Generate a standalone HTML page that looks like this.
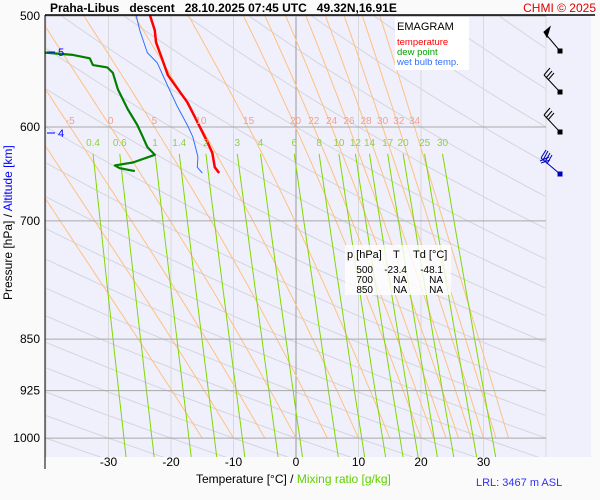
<!DOCTYPE html>
<html><head><meta charset="utf-8"><style>
body{margin:0;background:#fafafa;}
svg{display:block;font-family:"Liberation Sans",sans-serif;}
</style></head><body>
<svg id="chart" width="600" height="500">
<rect x="45" y="15" width="546" height="442" fill="#f0f0fc"/>
<g id="bg"></g>
<g id="series"></g>
<line x1="45" y1="15" x2="595" y2="15" stroke="#000" stroke-width="1.5"/>
<line x1="45" y1="15" x2="45" y2="469" stroke="#000" stroke-width="1"/>
<text x="50" y="12" font-size="12" font-weight="bold" xml:space="preserve">Praha-Libus   descent   28.10.2025 07:45 UTC   49.32N,16.91E</text>
<text x="596" y="12" font-size="12" fill="#e00000" text-anchor="end">CHMI © 2025</text>
<g>
<rect x="395" y="17" width="74" height="53" fill="#fff"/>
<text x="397" y="30" font-size="11">EMAGRAM</text>
<text x="397" y="45" font-size="9.5" fill="#ff0000">temperature</text>
<text x="397" y="55" font-size="9.5" fill="#00a000">dew point</text>
<text x="397" y="65" font-size="9.5" fill="#3070ff">wet bulb temp.</text>
</g>
<g font-size="10">
<rect x="345" y="245" width="106" height="50" fill="#fff" opacity="0.8"/>
<text x="347" y="258" font-size="11">p [hPa]</text>
<text x="393" y="258" font-size="11">T</text>
<text x="413" y="258" font-size="11">Td [°C]</text>
<text x="373" y="273" text-anchor="end">500</text>
<text x="407" y="273" text-anchor="end">-23.4</text>
<text x="443" y="273" text-anchor="end">-48.1</text>
<text x="373" y="283" text-anchor="end">700</text>
<text x="407" y="283" text-anchor="end">NA</text>
<text x="443" y="283" text-anchor="end">NA</text>
<text x="373" y="293" text-anchor="end">850</text>
<text x="407" y="293" text-anchor="end">NA</text>
<text x="443" y="293" text-anchor="end">NA</text>
</g>
<g stroke="#000" stroke-width="1">
<g><line x1="544" y1="32" x2="560" y2="51"/><polygon points="544,32 550,27 547,37" fill="#000"/><rect x="558" y="49" width="4" height="4" fill="#000"/></g>
<g><line x1="544" y1="75" x2="560" y2="92"/><line x1="544" y1="75" x2="550" y2="68"/><line x1="546" y1="78" x2="552" y2="71"/><line x1="548" y1="80" x2="554" y2="73"/><rect x="558" y="90" width="4" height="4" fill="#000"/></g>
<g><line x1="544" y1="115" x2="560" y2="132"/><line x1="544" y1="115" x2="550" y2="108"/><line x1="546" y1="118" x2="552" y2="111"/><line x1="548" y1="120" x2="554" y2="113"/><rect x="558" y="130" width="4" height="4" fill="#000"/></g>
<g stroke="#0000c0"><line x1="541" y1="158" x2="560" y2="174"/><line x1="541" y1="158" x2="546" y2="150"/><line x1="543" y1="160" x2="548" y2="151"/><line x1="545" y1="162" x2="550" y2="153"/><line x1="547" y1="164" x2="552" y2="155"/><line x1="540" y1="161" x2="549" y2="157"/><line x1="541" y1="163" x2="550" y2="160"/><rect x="558" y="172" width="4" height="4" fill="#0000c0"/></g>
</g>
<g fill="#0000ff" font-size="11">
<line x1="47" y1="52" x2="55" y2="52" stroke="#0000ff"/><text x="58" y="56">5</text>
<line x1="47" y1="133" x2="55" y2="133" stroke="#0000ff"/><text x="58" y="137">4</text>
</g>
<g id="axes" font-size="12"></g>
<text x="196" y="483" font-size="12">Temperature [°C]  /  <tspan fill="#60d000">Mixing ratio [g/kg]</tspan></text>
<text x="476" y="486" font-size="11" fill="#3030ff">LRL: 3467 m ASL</text>
<text transform="translate(12,300) rotate(-90)" font-size="12">Pressure [hPa]  /  <tspan fill="#0000ff">Altitude [km]</tspan></text>
</svg>
<script>
const pressureTicks=[500,600,700,850,925,1000];
const isotherms=[-40,-30,-20,-10,0,10,20,30,40];
const xTickLabels=[-30,-20,-10,0,10,20,30];
const thetaW=[-15,-10,-5,0,5,10,15,20,22,24,26,28,30,32,34];
const thetaWLabels=[-5,0,5,10,15,20,22,24,26,28,30,32,34];
const mixRatios=[0.4,0.6,1,1.4,2,3,4,6,8,10,12,14,17,20,25,30];
const grayT1000=[-80,-70,-60,-50,-40,-30,-20,-10,0,10,20,30,40,50,60,70,80,90,100,110,120,130,140,150,160,170,180,190];
const tempP=[499,512,522,537,551,563,576,590,606,616,626,641,647];
const tempT=[-23.4,-22.6,-22.4,-21.4,-20.5,-19.0,-17.4,-16.2,-14.9,-14.1,-13.4,-13.0,-12.3];
const dewP=[500,520,531,533,536,542,544,549,564,583,598,610,620,628,636,639,642,645];
const dewT=[-48.1,-44.0,-40.2,-35.7,-33.0,-32.5,-30.2,-29.3,-28.5,-26.9,-25.4,-24.5,-23.8,-22.6,-26.1,-29.0,-28.2,-25.8];
const wetP=[499,512,531,540,560,580,598,610,630,641,647];
const wetT=[-25.6,-25.0,-23.8,-22.2,-20.6,-19.0,-17.4,-16.5,-15.7,-15.8,-15.0];

const NS='http://www.w3.org/2000/svg';
const X=t=>46+6.25*(t+40);
const Y=p=>16+609*Math.log(p/500);
const bg=document.getElementById('bg'),ser=document.getElementById('series'),ax=document.getElementById('axes');
function mk(tag,attrs,parent){const e=document.createElementNS(NS,tag);for(const k in attrs)e.setAttribute(k,attrs[k]);parent.appendChild(e);return e;}
const svg=document.getElementById('chart');
const clip=mk('clipPath',{id:'pc'},svg);
mk('rect',{x:45,y:15,width:546,height:442},clip);
const clip2=mk('clipPath',{id:'pc2'},svg);
mk('rect',{x:45,y:15,width:500,height:442},clip2);
bg.setAttribute('clip-path','url(#pc)');ser.setAttribute('clip-path','url(#pc)');
const grayG=mk('g',{'clip-path':'url(#pc2)'},bg);
function path(pts){return 'M'+pts.map(q=>q[0].toFixed(1)+','+q[1].toFixed(1)).join('L');}
isotherms.forEach(t=>{const l=mk('line',{x1:X(t),y1:15,x2:X(t),y2:457,stroke:t===0?'#999':'#d8d8d8','stroke-width':1},bg);

});
// gray guide lines (linear in p)
grayT1000.forEach(t0=>{const pts=[];for(let p=480;p<=1060;p+=20){const T=t0+0.275*(p-1000);pts.push([X(T),Y(p)]);}
const e=mk('path',{d:path(pts),fill:'none',stroke:'#d4d4dc','stroke-width':1},grayG);

});
function es(t){return 6.112*Math.exp(17.67*t/(t+243.5));}
thetaW.forEach(tw=>{let T=tw+273.15;const pts=[[X(tw),Y(1000)]];for(let p=1000;p>450;p-=2){const e=es(T-273.15),rs=0.622*e/(p-e);
const dTdp=(287*T+2.5e6*rs)/(p*(1005+2.5e6*2.5e6*rs*0.622/(287*T*T)));T-=dTdp*2;pts.push([X(T-273.15),Y(p-2)]);}
const e=mk('path',{d:path(pts),fill:'none',stroke:'#ffc080','stroke-width':1},bg);


if(thetaWLabels.includes(tw)){let T6=null;for(const q of pts){if(q[1]<=Y(600)){T6=q[0];break;}}
const lb=mk('text',{x:T6,y:124,'font-size':10,fill:'#f0a090','text-anchor':'middle'},ax);lb.textContent=tw;

}});
mixRatios.forEach(w=>{const pts=[];for(let p=627;p<=1050;p+=10){const e=w*p/(622+w),L=Math.log(e/6.112),T=243.5*L/(17.67-L);pts.push([X(T),Y(p)]);}
const e=mk('path',{d:path(pts),fill:'none',stroke:'#80d800','stroke-width':1},bg);


const lb=mk('text',{x:pts[0][0],y:146,'font-size':10,fill:'#90d040','text-anchor':'middle'},ax);lb.textContent=w;

});
pressureTicks.forEach(p=>{const l=mk('line',{x1:45,y1:Y(p),x2:546,y2:Y(p),stroke:'#a8a8a8','stroke-width':1},bg);


const t=mk('text',{x:40,y:Y(p)+4,'text-anchor':'end'},ax);t.textContent=p;

});
xTickLabels.forEach(v=>{const t=mk('text',{x:X(v),y:466,'text-anchor':'middle'},ax);t.textContent=v;

});
function line(P,T,col,w,name){const pts=P.map((p,i)=>[X(T[i]),Y(p)]);const e=mk('path',{d:path(pts),fill:'none',stroke:col,'stroke-width':w,'stroke-linejoin':'round'},ser);

}
line(wetP,wetT,'#3070ff',1,'wet-bulb-line');
line(dewP,dewT,'#008000',2.2,'dew-point-line');
line(tempP,tempT,'#ff0000',2.5,'temperature-line');
</script>
</body></html>
